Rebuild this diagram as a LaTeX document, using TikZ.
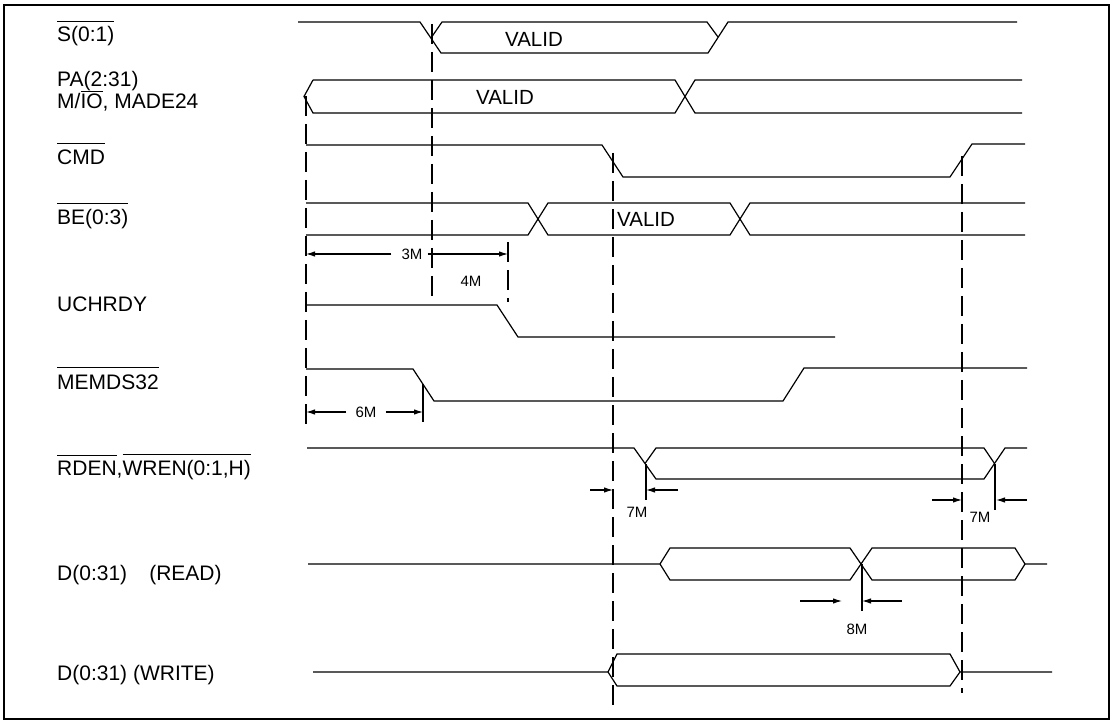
\documentclass[tikz,border=0pt]{standalone}
\usepackage{fontspec}
\setmainfont{Liberation Sans}
\usetikzlibrary{arrows.meta}
\newcommand{\ovl}[2][5pt]{\leavevmode\vbox{\hrule height 1pt\kern #1\hbox{#2}}}
\begin{document}
\begin{tikzpicture}[x=1pt,y=-1pt,
  sig/.style={line width=1.2pt, line join=miter},
  guide/.style={line width=1.1pt, dash pattern=on 20pt off 8pt},
  tick/.style={line width=1.1pt},
  dim/.style={line width=1.1pt},
  tip/.style={-{Latex[length=9pt,width=5.5pt]}},
  siglabel/.style={anchor=base west, inner sep=0pt, font=\fontsize{21}{24}\selectfont},
  buslabel/.style={inner sep=0pt, font=\fontsize{20.5}{24}\selectfont},
  dimlabel/.style={inner sep=0pt, font=\fontsize{15}{18}\selectfont}]
\useasboundingbox (0,0) rectangle (1117,727);
\draw[line width=2.6pt] (4,5) rectangle (1109,719);

% signal names (base lines)
\node[siglabel] (nS)   at (57,42)  {\ovl{S(0:1)}};
\node[siglabel] (nPA)  at (57,87)  {PA(2:31)};
\node[siglabel] (nMIO) at (57,109) {M/\ovl[2pt]{IO}, MADE24};
\node[siglabel] (nCMD) at (57,165) {\ovl[6pt]{CMD}};
\node[siglabel] (nBE)  at (57,225) {\ovl[6pt]{BE(0:3)}};
\node[siglabel] (nUC)  at (57,312) {UCHRDY};
\node[siglabel] (nMEM) at (57,389) {\ovl[6pt]{MEMDS32}};
\node[siglabel] (nRD)  at (57,475) {\ovl{RDEN},\ovl{WREN(0:1,H)}};
\node[siglabel] (nDR)  at (57,580) {D(0:31)\hspace{1.05em}(READ)};
\node[siglabel] (nDW)  at (57,680) {D(0:31) (WRITE)};

% guide lines
\draw[guide] (306,96) -- (306,430);
\draw[guide] (432,24) -- (432,302);
\draw[guide] (508,242) -- (508,302);
\draw[guide] (613,153) -- (613,710);
\draw[guide] (962,156) -- (962,693);

% S(0:1)
\draw[sig] (298,22) -- (420,22) -- (441,53) -- (708,53) -- (728,22) -- (1017,22);
\draw[sig] (431,38) -- (442,22) -- (707,22) -- (718,37);
\node[buslabel] (vS) at (534,39) {VALID};

% PA(2:31)
\draw[sig] (313,80) -- (304,96.5) -- (313,113) -- (675,113) -- (695,80) -- (1022,80);
\draw[sig] (313,80) -- (675,80) -- (695,113) -- (1022,113);
\node[buslabel] (vPA) at (505,97) {VALID};

% CMD
\draw[sig] (306,145) -- (602,145) -- (623,177) -- (950,177) -- (972,144) -- (1025,144);

% BE(0:3)
\draw[sig] (306,203) -- (528,203) -- (548,235) -- (730,235) -- (750,203) -- (1025,203);
\draw[sig] (306,235) -- (528,235) -- (548,203) -- (730,203) -- (750,235) -- (1025,235);
\node[buslabel, anchor=west] (vBE) at (617,219) {VALID};

% 3M / 4M
\node[dimlabel] (d3) at (412,254) {3M};
\node[dimlabel] (d4) at (471,281) {4M};
\draw[dim,tip] (d3.west) ++(-10,0) -- (306,254);
\draw[dim,tip] (d3.east) ++(5,0) -- (508,254);

% UCHRDY
\draw[sig] (306,305) -- (497,305) -- (518,337) -- (835,337);

% MEMDS32
\draw[sig] (306,369) -- (413,369) -- (434,401) -- (783,401) -- (804,368) -- (1027,368);
\node[dimlabel] (d6) at (366,412) {6M};
\draw[dim,tip] (d6.west) ++(-9,0) -- (306,412);
\draw[dim,tip] (d6.east) ++(9,0) -- (423,412);
\draw[tick] (423,384) -- (423,422);

% RDEN, WREN
\draw[sig] (307,448) -- (634,448) -- (656,479) -- (984,479) -- (1005,448) -- (1027,448);
\draw[sig] (645,463.5) -- (656,448) -- (984,448) -- (994.5,463.5);
\draw[dim,tip] (590,490) -- (613,490);
\draw[dim,tip] (678,490) -- (646,490);
\draw[tick] (646,464) -- (646,500);
\node[dimlabel] (d7a) at (637,512) {7M};
\draw[dim,tip] (932,500) -- (962,500);
\draw[dim,tip] (1027,500) -- (996,500);
\draw[tick] (995,464) -- (995,510);
\node[dimlabel] (d7b) at (980,517) {7M};

% D(0:31) READ
\draw[sig] (308,564) -- (660,564) -- (670,548) -- (850,548) -- (872,580) -- (1015,580) -- (1025,564) -- (1047,564);
\draw[sig] (660,564) -- (670,580) -- (850,580) -- (872,548) -- (1015,548) -- (1025,564);
\draw[dim,tip] (800,601) -- (842,601);
\draw[dim,tip] (902,601) -- (862,601);
\draw[tick] (862,564) -- (862,611);
\node[dimlabel] (d8) at (857,629) {8M};

% D(0:31) WRITE
\draw[sig] (313,672) -- (608,672) -- (617,654) -- (950,654) -- (960,672) -- (1052,672);
\draw[sig] (608,672) -- (617,686) -- (950,686) -- (960,672);
\end{tikzpicture}
\end{document}
